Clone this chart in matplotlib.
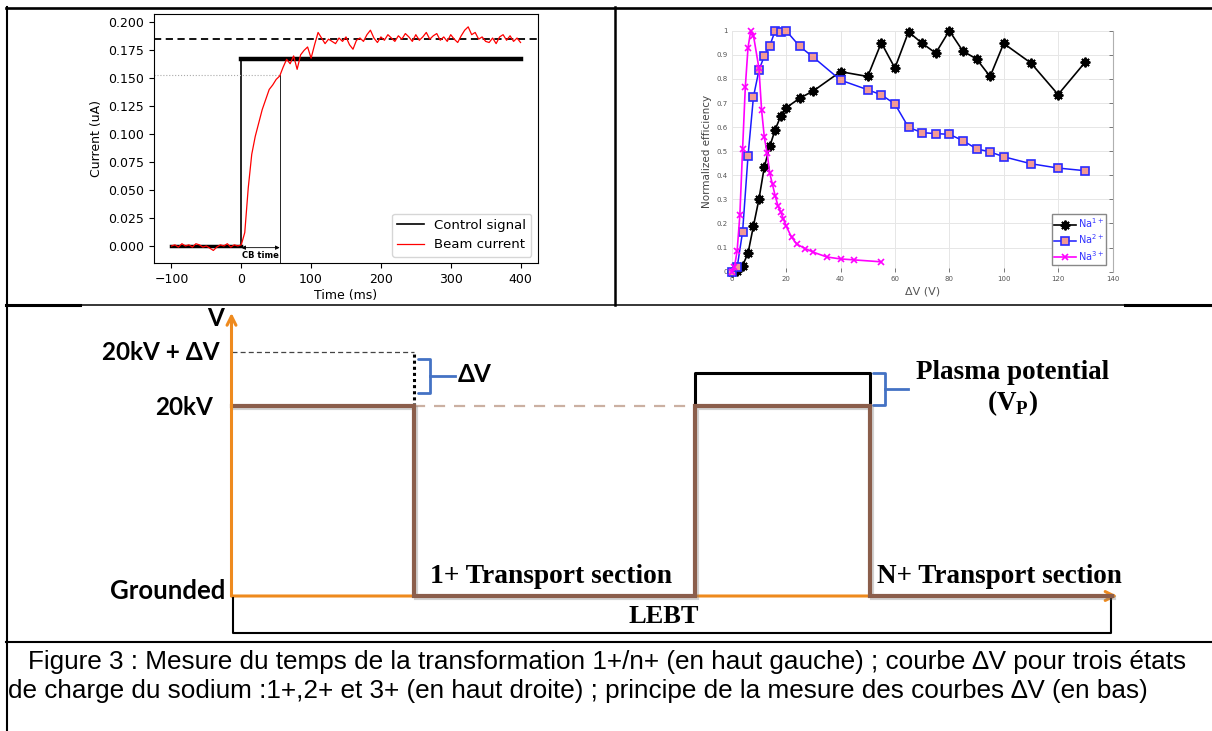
import numpy as np
import matplotlib
matplotlib.use('Agg')
import matplotlib.pyplot as plt
import matplotlib.patheffects as pe
from matplotlib.ticker import MultipleLocator, FormatStrFormatter

plt.rcParams['mathtext.fontset'] = 'custom'
plt.rcParams['mathtext.bf'] = 'Liberation Serif:bold'

W, H = 1212, 731

# ---- 1+/n+ transformation time (top left) ----
time_ms = np.arange(-100, 401, 5)
beam_current = [
    0.000, 0.001, -0.001, 0.002, 0.000, 0.001, -0.001, 0.002, 0.001, -0.001,
    0.000, -0.002, -0.004, -0.001, 0.001, 0.000, 0.002, -0.001, 0.001, 0.000,
    0.001, 0.012, 0.052, 0.082, 0.098, 0.110, 0.122, 0.131, 0.140, 0.144,
    0.149, 0.152, 0.160, 0.167, 0.163, 0.170, 0.158, 0.171, 0.175, 0.178,
    0.168, 0.180, 0.191, 0.186, 0.181, 0.185, 0.183, 0.181, 0.186, 0.183,
    0.187, 0.180, 0.176, 0.184, 0.186, 0.183, 0.189, 0.193, 0.186, 0.182,
    0.187, 0.184, 0.189, 0.186, 0.183, 0.188, 0.185, 0.190, 0.187, 0.183,
    0.189, 0.184, 0.187, 0.191, 0.185, 0.188, 0.190, 0.184, 0.187, 0.183,
    0.189, 0.185, 0.182, 0.188, 0.193, 0.196, 0.189, 0.191, 0.185, 0.187,
    0.183, 0.182, 0.186, 0.181, 0.187, 0.189, 0.184, 0.188, 0.183, 0.186,
    0.182,
]
ctrl_t = [-100, 0, 0, 400]
ctrl_v = [0.0, 0.0, 0.167, 0.167]
saturation = 0.185
cb_time = 55
cb_level = 0.153

# ---- delta V curves for Na 1+, 2+, 3+ (top right) ----
na1_dv = [0, 2, 4, 6, 8, 10, 12, 14, 16, 18, 20, 25, 30, 40, 50, 55, 60, 65,
          70, 75, 80, 85, 90, 95, 100, 110, 120, 130]
na1_eff = [0.0, 0.003, 0.025, 0.077, 0.19, 0.30, 0.435, 0.52, 0.59, 0.645,
           0.68, 0.72, 0.75, 0.83, 0.81, 0.95, 0.845, 0.995, 0.948, 0.907,
           1.0, 0.915, 0.883, 0.81, 0.947, 0.866, 0.735, 0.87]
na2_dv = [0, 2, 4, 6, 8, 10, 12, 14, 16, 18, 20, 25, 30, 40, 50, 55, 60, 65,
          70, 75, 80, 85, 90, 95, 100, 110, 120, 130]
na2_eff = [0.0, 0.018, 0.165, 0.48, 0.726, 0.835, 0.896, 0.938, 1.0, 0.996,
           1.0, 0.935, 0.89, 0.795, 0.755, 0.734, 0.696, 0.599, 0.577, 0.573,
           0.57, 0.544, 0.51, 0.497, 0.477, 0.448, 0.43, 0.419]
na3_dv = [0, 1, 2, 3, 4, 5, 6, 7, 8, 10, 11, 12, 13, 14, 15, 16, 17, 18, 19,
          20, 22, 24, 27, 30, 35, 40, 45, 55]
na3_eff = [0.0, 0.018, 0.087, 0.235, 0.508, 0.766, 0.93, 1.0, 0.98, 0.845,
           0.67, 0.557, 0.494, 0.408, 0.362, 0.314, 0.274, 0.248, 0.22, 0.19,
           0.143, 0.114, 0.096, 0.081, 0.061, 0.053, 0.049, 0.041]

# ---- potential along the line (bottom) ----
switch_pos = [0.0, 1.82, 4.635, 6.385, 8.80]
section_level = [1.0, 0.0, 1.0, 0.0]
delta_v = 0.284
plasma_v = 0.175

caption = [
    "Figure 3 : Mesure du temps de la transformation 1+/n+ (en haut gauche) ; "
    "courbe \u2206V pour trois états",
    "de charge du sodium :1+,2+ et 3+ (en haut droite) ; principe de la mesure "
    "des courbes \u2206V (en bas)",
]

fig = plt.figure(figsize=(W / 100, H / 100), dpi=100)

# ---------------- top left ----------------
ax1 = fig.add_axes([154 / W, 1 - 263.3 / H, 384 / W, 249.3 / H])
ax1.set_xlim(-125, 425)
ax1.set_ylim(-0.0155, 0.2075)
ax1.plot(ctrl_t, ctrl_v, color='black', lw=1.2, label='Control signal', zorder=2)
ax1.plot(ctrl_t[:2], ctrl_v[:2], color='black', lw=2.5, zorder=2)
ax1.plot(ctrl_t[2:], ctrl_v[2:], color='black', lw=3.2, zorder=2)
ax1.plot(time_ms, beam_current, color='red', lw=0.9, label='Beam current', zorder=3)
ax1.axhline(saturation, color='black', lw=1.3, ls=(0, (4, 2.5)))
ax1.axhline(cb_level, xmin=0, xmax=(cb_time + 125) / 550, color='#aaaaaa', lw=0.8, ls=':')
ax1.axvline(cb_time, ymin=0, ymax=(cb_level + 0.0155) / 0.223, color='black', lw=0.6)
ax1.annotate('', xy=(cb_time, -0.0015), xytext=(0, -0.0015),
             arrowprops=dict(arrowstyle='<|-|>', color='black', lw=0.6,
                             mutation_scale=6, shrinkA=0, shrinkB=0))
ax1.text(cb_time / 2, -0.0088, 'CB time', fontsize=6, fontweight='bold',
         ha='center', va='center')
ax1.set_xticks([-100, 0, 100, 200, 300, 400])
ax1.yaxis.set_major_locator(MultipleLocator(0.025))
ax1.yaxis.set_major_formatter(FormatStrFormatter('%.3f'))
ax1.tick_params(labelsize=9)
ax1.set_xlabel('Time (ms)', fontsize=9, labelpad=2)
ax1.set_ylabel('Current (uA)', fontsize=9)
ax1.legend(loc='lower right', fontsize=9.5)

# ---------------- top right ----------------
ax2 = fig.add_axes([731.7 / W, 1 - 271.7 / H, 380.8 / W, 241 / H])
ax2.set_xlim(0, 140)
ax2.set_ylim(0, 1)
ax2.grid(True, color='#e6e6e6', lw=0.7)
ax2.set_axisbelow(True)
ax2.plot(na1_dv, na1_eff, color='black', lw=1.2, marker=(8, 2, 0), ms=7,
         mew=1.4, label='Na$^{1+}$', clip_on=False, zorder=3)
ax2.plot(na2_dv, na2_eff, color='#1a1aff', lw=1.1, marker='s', ms=5.5,
         mfc='#f29a94', mec='#2a2aff', mew=1.2, label='Na$^{2+}$', clip_on=False, zorder=3)
ax2.plot(na3_dv, na3_eff, color='#ff00ff', lw=1.2, marker='x', ms=4.5,
         mew=1.2, label='Na$^{3+}$', clip_on=False, zorder=4)
for side in ('left', 'top', 'bottom'):
    ax2.spines[side].set_visible(False)
ax2.spines['right'].set_color('#b0b0b0')
ax2.xaxis.set_major_locator(MultipleLocator(20))
ax2.yaxis.set_major_locator(MultipleLocator(0.1))
ax2.yaxis.set_major_formatter(FormatStrFormatter('%g'))
ax2.tick_params(direction='in', length=3, width=0.6, color='#666666',
                labelsize=5, labelcolor='#555555', pad=3)
ax2.tick_params(axis='y', left=False, right=True, labelleft=True, labelright=False)
ax2.set_xlabel('\u0394V (V)', fontsize=8, color='#555555', labelpad=3)
ax2.set_ylabel('Normalized efficiency', fontsize=7.5, color='#444444', labelpad=3)
leg = ax2.legend(loc='lower right', bbox_to_anchor=(0.983, 0.028), fontsize=7,
                 fancybox=False, edgecolor='#888888', framealpha=1,
                 handlelength=2.2, handletextpad=0.2, labelspacing=0.25,
                 borderpad=0.25, borderaxespad=0)
for t in leg.get_texts():
    t.set_color('#3333ff')

# ---------------- bottom: potential diagram ----------------
axd = fig.add_axes([0, 89 / H, 1, 337 / H])
axd.set_xlim(-2.315, 9.805)
axd.set_ylim(-0.2421, 1.5316)
axd.axis('off')

orange = '#ee8a1e'
brown = '#8b5e4b'
blue = '#4472c4'
sans_bold = ['Lato', 'DejaVu Sans']
serif = 'Liberation Serif'

# beamline axis and voltage axis
axd.annotate('', xy=(8.86, 0), xytext=(0, 0), zorder=2,
             arrowprops=dict(arrowstyle='->', color=orange, lw=2.2,
                             mutation_scale=16, shrinkA=0, shrinkB=0))
axd.annotate('', xy=(0, 1.49), xytext=(0, 0), zorder=5,
             arrowprops=dict(arrowstyle='->', color=orange, lw=2.2,
                             mutation_scale=16, shrinkA=0, shrinkB=0))

# platform potential along the line
xs = np.repeat(switch_pos, 2)[1:-1]
ys = np.repeat(section_level, 2)
axd.plot(xs, ys, color=brown, lw=3, zorder=4, solid_joinstyle='miter',
         path_effects=[pe.SimpleLineShadow(offset=(1.5, -1.5), shadow_color='gray', alpha=0.35),
                       pe.Normal()])

# 20 kV + delta V reference and plasma potential
axd.plot([0, switch_pos[1]], [1 + delta_v] * 2, color='#444444', lw=0.9, ls=(0, (4, 2.5)))
axd.plot([switch_pos[1]] * 2, [1, 1 + delta_v], color='black', lw=2.2, ls=(0, (1, 1)))
axd.plot([switch_pos[1], switch_pos[2]], [1, 1], color='#cbb0a2', lw=1.6, ls=(0, (5, 4)))
axd.plot([switch_pos[2], switch_pos[2], switch_pos[3], switch_pos[3]],
         [1, 1 + plasma_v, 1 + plasma_v, 1], color='black', lw=2.2, zorder=3)


def brace(ax, x, y0, y1, w, tail):
    ym = (y0 + y1) / 2
    ax.plot([x, x + w, x + w, x], [y1, y1, y0, y0], color=blue, lw=2,
            solid_joinstyle='round', solid_capstyle='round')
    ax.plot([x + w, x + w + tail], [ym, ym], color=blue, lw=2)


brace(axd, switch_pos[1] + 0.045, 1.07, 1.25, 0.12, 0.25)
brace(axd, switch_pos[3] + 0.03, 1.005, 1 + plasma_v, 0.12, 0.23)

axd.text(-0.155, 1.463, 'V', fontsize=17.5, fontweight='bold', family=sans_bold,
         ha='center', va='center')
axd.text(-0.12, 1 + delta_v, '20kV + \u0394V', fontsize=17.5, fontweight='bold',
         family=sans_bold, ha='right', va='center')
axd.text(-0.18, 0.99, '20kV', fontsize=17.5, fontweight='bold', family=sans_bold,
         ha='right', va='center')
axd.text(-0.06, 0.026, 'Grounded', fontsize=18.5, fontweight='bold', family=sans_bold,
         ha='right', va='center')
axd.text(2.26, 1.168, '\u0394V', fontsize=17.5, fontweight='bold', family=sans_bold,
         ha='left', va='center')
axd.text(7.81, 1.174, 'Plasma potential', fontsize=19.5, fontweight='bold',
         family=serif, ha='center', va='center')
axd.text(7.81, 1.016, r'(V$_{\mathbf{P}}$)', fontsize=19.5, fontweight='bold',
         family=serif, ha='center', va='center')
axd.text(3.19, 0.105, '1+ Transport section', fontsize=19.8, fontweight='bold',
         family=serif, ha='center', va='center')
axd.text(7.675, 0.105, 'N+ Transport section', fontsize=19.5, fontweight='bold',
         family=serif, ha='center', va='center')
axd.text(4.325, -0.11, 'LEBT', fontsize=19, fontweight='bold', family=serif,
         ha='center', va='center')
axd.plot([0.01, 0.01, 8.795, 8.795], [-0.01, -0.195, -0.195, -0.01],
         color='black', lw=1.5, solid_joinstyle='round')

# ---------------- table frame and caption ----------------
axf = fig.add_axes([0, 0, 1, 1])
axf.set_xlim(0, W)
axf.set_ylim(H, 0)
axf.axis('off')
axf.plot([6, W], [7.5, 7.5], color='black', lw=1.9)
axf.plot([7, 7], [7, H], color='black', lw=1.5)
axf.plot([615, 615], [7, 305], color='black', lw=1.8)
axf.plot([6, W], [305, 305], color='black', lw=1.1)
axf.plot([6, 80], [305, 305], color='black', lw=2.2)
axf.plot([1125, W], [305, 305], color='black', lw=2.2)
axf.plot([6, W], [642, 642], color='black', lw=1.5)
axf.text(28, 662, caption[0], fontsize=18.8, family='Liberation Sans', va='center')
axf.text(8, 691, caption[1], fontsize=18.8, family='Liberation Sans', va='center')

fig.savefig('out.png', dpi=100)
